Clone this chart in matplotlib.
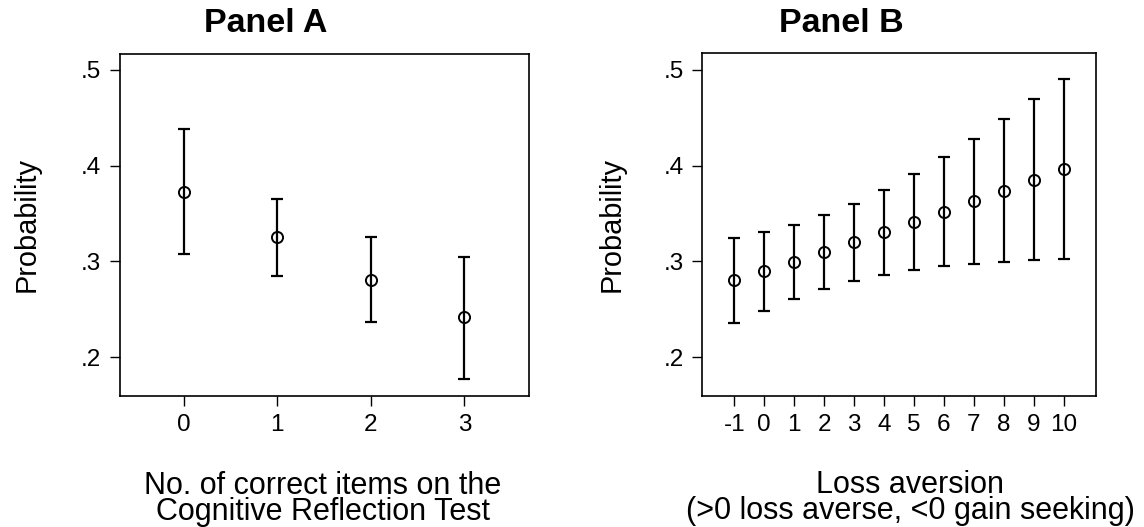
import matplotlib
matplotlib.use("Agg")
import matplotlib.pyplot as plt
from matplotlib.ticker import FixedLocator

plt.rcParams['font.family'] = ['Liberation Sans', 'DejaVu Sans']

# Panel A data
crt_items = [0, 1, 2, 3]
crt_prob = [0.372, 0.325, 0.281, 0.2416]
crt_lo = [0.3075, 0.2847, 0.2367, 0.1771]
crt_hi = [0.438, 0.3655, 0.325, 0.3046]

# Panel B data
loss_av = [-1, 0, 1, 2, 3, 4, 5, 6, 7, 8, 9, 10]
la_prob = [0.280, 0.2896, 0.2994, 0.3095, 0.320, 0.3304, 0.3412, 0.3516, 0.3628, 0.3736, 0.385, 0.3962]
la_lo = [0.2353, 0.2485, 0.261, 0.2715, 0.2799, 0.2861, 0.2913, 0.2948, 0.2976, 0.2997, 0.3011, 0.3028]
la_hi = [0.3248, 0.331, 0.3384, 0.3478, 0.3603, 0.3746, 0.391, 0.4094, 0.4282, 0.4485, 0.4694, 0.4903]

y_ticks = [0.2, 0.3, 0.4, 0.5]
y_ticklabels = ['.2', '.3', '.4', '.5']

W, H = 1144, 527
fig = plt.figure(figsize=(W / 100, H / 100), dpi=100)


def px_axes(l, t, r, b):
    return fig.add_axes([l / W, 1 - b / H, (r - l) / W, (b - t) / H])


axA = px_axes(119.5, 53.5, 528.7, 395.7)
axB = px_axes(701.7, 53.3, 1095.7, 395.7)


def draw(ax, x, p, lo, hi):
    yerr = [[pi - l for pi, l in zip(p, lo)], [h - pi for pi, h in zip(p, hi)]]
    ax.errorbar(x, p, yerr=yerr, fmt='none', ecolor='black', elinewidth=1.6,
                capsize=4.3, capthick=1.6, zorder=2)
    ax.plot(x, p, 'o', markersize=8, markerfacecolor='none',
            markeredgecolor='black', markeredgewidth=1.4, zorder=3)
    ax.set_ylim(0.1596, 0.5172)
    ax.yaxis.set_major_locator(FixedLocator(y_ticks))
    ax.set_yticklabels(y_ticklabels)
    ax.set_xticks(x)
    ax.set_xticklabels([str(v) for v in x])
    ax.tick_params(axis='both', direction='out', length=7, width=1.0,
                   labelsize=17.5, pad=6, color='black')
    for s in ax.spines.values():
        s.set_linewidth(1.2)


draw(axA, crt_items, crt_prob, crt_lo, crt_hi)
axA.set_xlim(-0.688, 3.688)
draw(axB, loss_av, la_prob, la_lo, la_hi)
axB.set_xlim(-2.09, 11.07)

# titles
fig.text(266 / W, 1 - 24 / H, 'Panel A', ha='center', va='center',
         fontsize=24.5, fontweight='bold')
fig.text(841 / W, 1 - 24 / H, 'Panel B', ha='center', va='center',
         fontsize=24.5, fontweight='bold')

# y labels
fig.text(27 / W, 1 - 224.6 / H, 'Probability', rotation=90, ha='center',
         va='center', fontsize=20.8)
fig.text(612 / W, 1 - 224.6 / H, 'Probability', rotation=90, ha='center',
         va='center', fontsize=20.8)

# x labels
fig.text(323 / W, 1 - 520 / H, 'No. of correct items on the\nCognitive Reflection Test',
         ha='center', va='baseline', fontsize=22, linespacing=0.82)
fig.text(910 / W, 1 - 519 / H, 'Loss aversion\n(>0 loss averse, <0 gain seeking)',
         ha='center', va='baseline', fontsize=22, linespacing=0.82)

fig.savefig('out.png', dpi=100)
